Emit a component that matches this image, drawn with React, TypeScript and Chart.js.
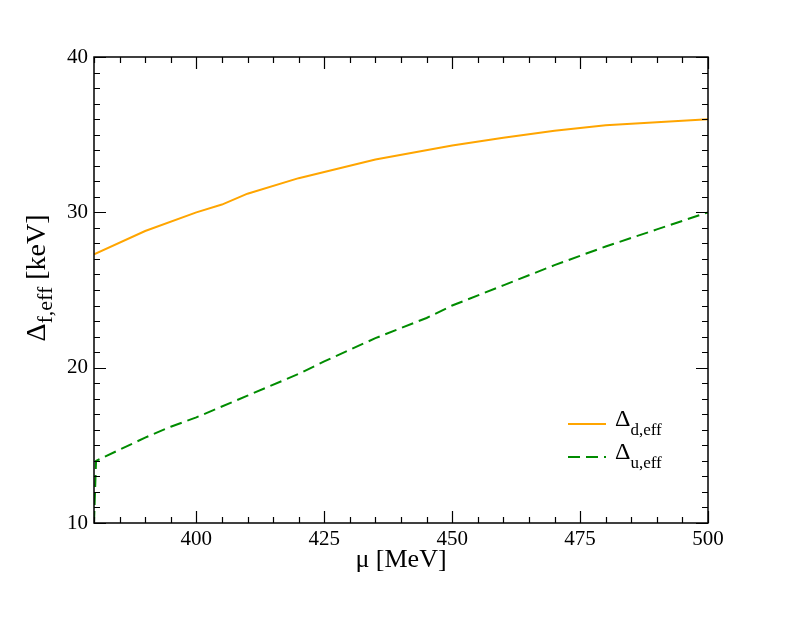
import React, { useEffect, useRef } from "react";
import { Chart, registerables } from "chart.js";
Chart.register(...registerables);

const dMu = [380, 390, 400, 405, 410, 420, 425, 435, 450, 460, 470, 480, 490, 500];
const dVals = [27.3, 28.8, 30.0, 30.5, 31.2, 32.2, 32.6, 33.4, 34.3, 34.8, 35.25, 35.6, 35.8, 36.0];
const uMu = [380, 380.4, 390, 395, 400, 410, 420, 425, 435, 445, 450, 460, 470, 480, 490, 500];
const uVals = [10.0, 14.0, 15.5, 16.2, 16.8, 18.2, 19.6, 20.4, 21.9, 23.2, 24.0, 25.3, 26.6, 27.8, 28.9, 30.0];
const xTicks = [400, 425, 450, 475, 500];
const yTicks = [10, 20, 30, 40];

const ORANGE = "#FFA500";
const GREEN = "#008C00";
const FONT = "'Liberation Serif', 'DejaVu Serif', serif";

const framePlugin = {
  id: "frame",
  afterDraw(chart: any) {
    const ctx = chart.ctx;
    const { left, right, top, bottom } = chart.chartArea;
    const xs = chart.scales.x;
    const ys = chart.scales.y;
    ctx.save();
    ctx.strokeStyle = "#000";
    ctx.lineWidth = 1.5;
    ctx.strokeRect(left, top, right - left, bottom - top);
    ctx.lineWidth = 1.2;
    ctx.beginPath();
    for (let v = 380; v <= 500; v += 5) {
      const px = Math.round(xs.getPixelForValue(v)) + 0.5;
      const len = v % 25 === 0 ? 12 : 6;
      ctx.moveTo(px, bottom);
      ctx.lineTo(px, bottom - len);
      ctx.moveTo(px, top);
      ctx.lineTo(px, top + len);
    }
    for (let v = 10; v <= 40; v += 1) {
      const py = Math.round(ys.getPixelForValue(v)) + 0.5;
      const len = v % 10 === 0 ? 12 : 6;
      ctx.moveTo(left, py);
      ctx.lineTo(left + len, py);
      ctx.moveTo(right, py);
      ctx.lineTo(right - len, py);
    }
    ctx.stroke();

    // axis titles
    ctx.fillStyle = "#000";
    ctx.textBaseline = "alphabetic";
    ctx.font = `26px ${FONT}`;
    ctx.textAlign = "center";
    ctx.fillText("\u03bc [MeV]", (left + right) / 2, 567);

    ctx.save();
    ctx.translate(45, 278);
    ctx.rotate(-Math.PI / 2);
    ctx.textAlign = "left";
    const bigF = `28px ${FONT}`;
    const subF = `22px ${FONT}`;
    ctx.font = bigF;
    const wD = ctx.measureText("\u0394").width;
    ctx.font = subF;
    const wS = ctx.measureText("f,eff").width;
    ctx.font = bigF;
    const wR = ctx.measureText(" [keV]").width;
    let x0 = -(wD + wS + wR) / 2;
    ctx.fillText("\u0394", x0, 0);
    ctx.font = subF;
    ctx.fillText("f,eff", x0 + wD, 7);
    ctx.font = bigF;
    ctx.fillText(" [keV]", x0 + wD + wS, 0);
    ctx.restore();

    // legend
    const items = [
      { label: "d,eff", color: ORANGE, dash: [] as number[], y: 424 },
      { label: "u,eff", color: GREEN, dash: [12, 6], y: 457 },
    ];
    for (const it of items) {
      ctx.strokeStyle = it.color;
      ctx.lineWidth = 2;
      ctx.setLineDash(it.dash);
      ctx.beginPath();
      ctx.moveTo(568, it.y);
      ctx.lineTo(606, it.y);
      ctx.stroke();
      ctx.setLineDash([]);
      ctx.textAlign = "left";
      ctx.font = `24px ${FONT}`;
      ctx.fillText("\u0394", 615, it.y + 2);
      const w = ctx.measureText("\u0394").width;
      ctx.font = `17px ${FONT}`;
      ctx.fillText(it.label, 615 + w, it.y + 11);
    }
    ctx.restore();
  },
};

export default function App() {
  const ref = useRef<HTMLCanvasElement>(null);
  useEffect(() => {
    if (!ref.current) return;
    const chart = new Chart(ref.current, {
      type: "line",
      data: {
        datasets: [
          {
            label: "d",
            data: dMu.map((x, i) => ({ x, y: dVals[i] })),
            borderColor: ORANGE,
            borderWidth: 2,
            pointRadius: 0,
            tension: 0,
            fill: false,
          },
          {
            label: "u",
            data: uMu.map((x, i) => ({ x, y: uVals[i] })),
            borderColor: GREEN,
            borderWidth: 2,
            borderDash: [12, 6],
            pointRadius: 0,
            tension: 0,
            fill: false,
          },
        ],
      },
      options: {
        animation: false,
        responsive: true,
        maintainAspectRatio: false,
        layout: { padding: { left: 0, top: 57, right: 98, bottom: 0 } },
        plugins: { legend: { display: false }, tooltip: { enabled: false } },
        scales: {
          x: {
            type: "linear",
            min: 380,
            max: 500,
            grid: { display: false, drawTicks: false },
            border: { display: false },
            afterBuildTicks: (s: any) => {
              s.ticks = xTicks.map((v) => ({ value: v }));
            },
            afterFit: (s: any) => {
              s.height = 100;
            },
            ticks: {
              padding: 4,
              color: "#000",
              font: { family: FONT, size: 21 },
              maxRotation: 0,
            },
          },
          y: {
            type: "linear",
            min: 10,
            max: 40,
            grid: { display: false, drawTicks: false },
            border: { display: false },
            afterBuildTicks: (s: any) => {
              s.ticks = yTicks.map((v) => ({ value: v }));
            },
            afterFit: (s: any) => {
              s.width = 94;
            },
            ticks: {
              padding: 6,
              color: "#000",
              font: { family: FONT, size: 21 },
            },
          },
        },
      },
      plugins: [framePlugin],
    });
    return () => chart.destroy();
  }, []);
  return (
    <div style={{ position: "absolute", left: 0, top: 0, width: 806, height: 623, background: "#fff" }}>
      <canvas ref={ref} />
    </div>
  );
}
